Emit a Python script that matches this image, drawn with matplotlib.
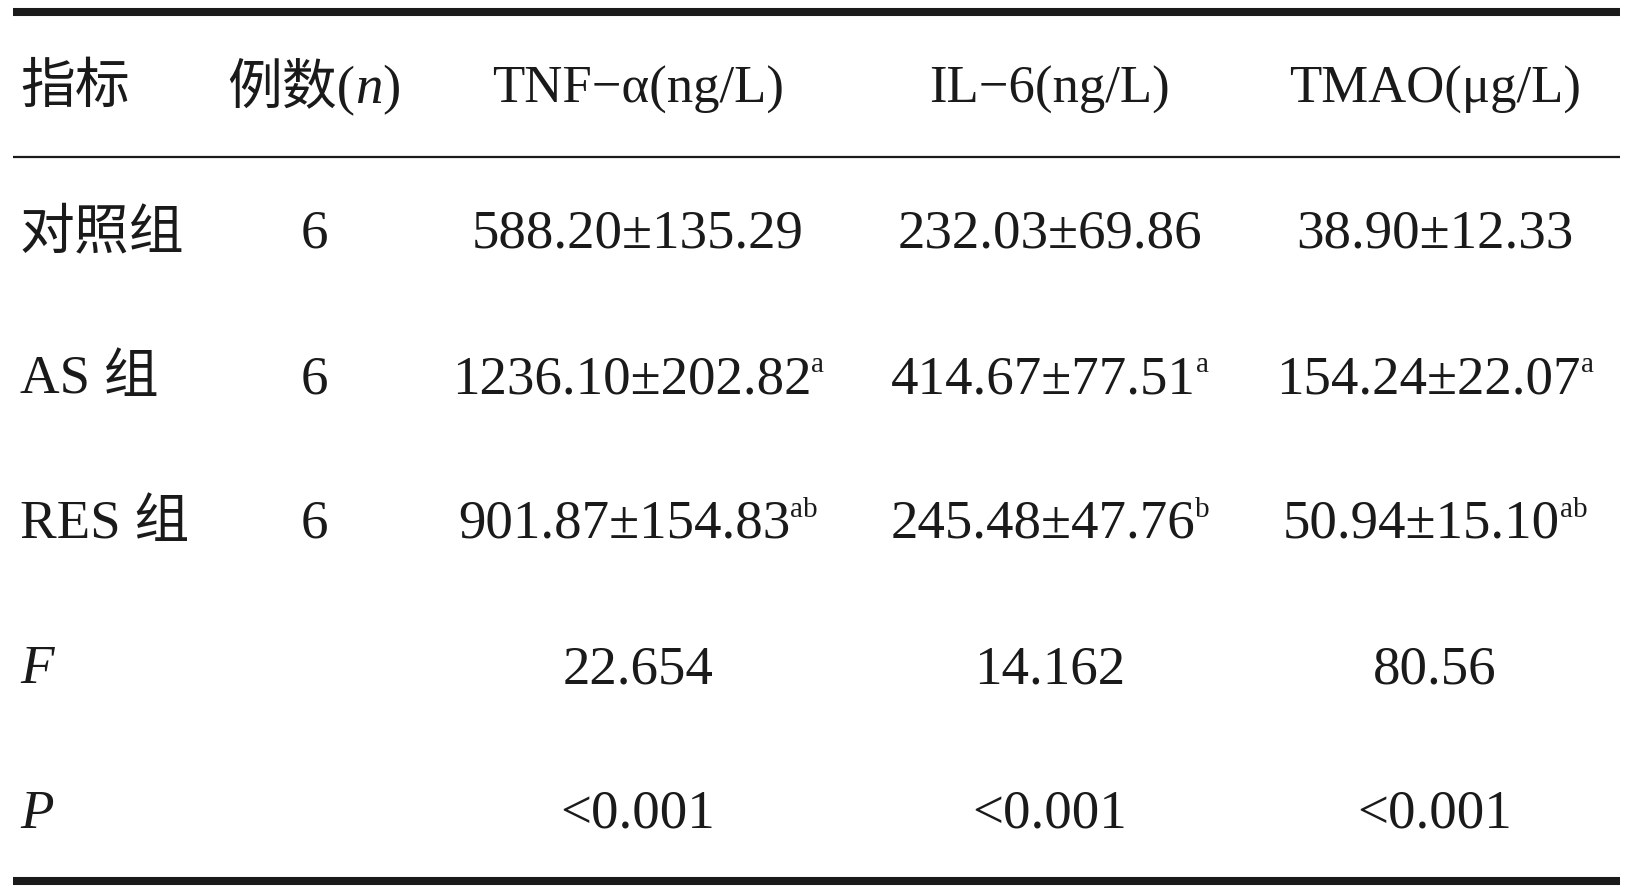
import matplotlib
matplotlib.use('Agg')
import matplotlib.pyplot as plt

# ---- table data ----
headers = ['指标', '例数', 'TNF−α(ng/L)', 'IL−6(ng/L)', 'TMAO(μg/L)']
groups = ['对照组', 'AS 组', 'RES 组']
n_cases = [6, 6, 6]
tnf_mean = [588.20, 1236.10, 901.87]
tnf_sd = [135.29, 202.82, 154.83]
tnf_sig = ['', 'a', 'ab']
il6_mean = [232.03, 414.67, 245.48]
il6_sd = [69.86, 77.51, 47.76]
il6_sig = ['', 'a', 'b']
tmao_mean = [38.90, 154.24, 50.94]
tmao_sd = [12.33, 22.07, 15.10]
tmao_sig = ['', 'a', 'ab']
f_values = ['22.654', '14.162', '80.56']
p_values = ['<0.001', '<0.001', '<0.001']

# ---- layout ----
W, H = 1634, 893
FAM = ['Liberation Serif', 'Noto Sans CJK SC']
FS = 39.5
HEAD_FS = 38
SUP_FS = 21
SUP_RISE = 21
INK = '#1a1a1a'
col_left = 20
col_n = 314
col_c = [638, 1050, 1435]
base_y = [103, 248, 393, 538, 683, 828]

fig = plt.figure(figsize=(W / 100, H / 100), dpi=100)
ax = fig.add_axes([0, 0, 1, 1])
ax.set_xlim(0, W)
ax.set_ylim(H, 0)
ax.axis('off')
renderer = fig.canvas.get_renderer()


def put_runs(x, y, parts, ha='left'):
    # parts: list of (text, size, style, rise)
    objs = []
    for s, size, style, rise in parts:
        t = ax.text(0, y - rise, s, fontsize=size, fontstyle=style,
                    family=FAM, color=INK, va='baseline', ha='left')
        objs.append(t)
    widths = [t.get_window_extent(renderer).width for t in objs]
    total = sum(widths)
    x0 = x - total / 2 if ha == 'center' else x
    for t, w in zip(objs, widths):
        t.set_x(x0)
        x0 += w


def cell(x, y, main, sup='', size=FS):
    parts = [(main, size, 'normal', 0)]
    if sup:
        parts.append((sup, SUP_FS, 'normal', SUP_RISE))
    put_runs(x, y, parts, ha='center')


# rules
ax.plot([13, 1620], [12, 12], color=INK, lw=5.8, solid_capstyle='butt')
ax.plot([13, 1620], [157, 157], color=INK, lw=1.6, solid_capstyle='butt')
ax.plot([13, 1620], [881, 881], color=INK, lw=5.8, solid_capstyle='butt')

# header
put_runs(col_left, base_y[0], [(headers[0], FS, 'normal', 0)])
put_runs(col_n, base_y[0], [(headers[1] + '(', FS, 'normal', 0),
                            ('n', FS, 'italic', 0),
                            (')', FS, 'normal', 0)], ha='center')
for cx, h in zip(col_c, headers[2:]):
    cell(cx, base_y[0], h, size=HEAD_FS)

# group rows
for i, g in enumerate(groups):
    y = base_y[i + 1]
    put_runs(col_left, y, [(g, FS, 'normal', 0)])
    cell(col_n, y, str(n_cases[i]))
    cell(col_c[0], y, f'{tnf_mean[i]:.2f}±{tnf_sd[i]:.2f}', tnf_sig[i])
    cell(col_c[1], y, f'{il6_mean[i]:.2f}±{il6_sd[i]:.2f}', il6_sig[i])
    cell(col_c[2], y, f'{tmao_mean[i]:.2f}±{tmao_sd[i]:.2f}', tmao_sig[i])

# statistics rows
put_runs(col_left, base_y[4], [('F', FS, 'italic', 0)])
put_runs(col_left, base_y[5], [('P', FS, 'italic', 0)])
for cx, fv, pv in zip(col_c, f_values, p_values):
    cell(cx, base_y[4], fv)
    cell(cx, base_y[5], pv)

fig.savefig('out.png', dpi=100, facecolor='white')
